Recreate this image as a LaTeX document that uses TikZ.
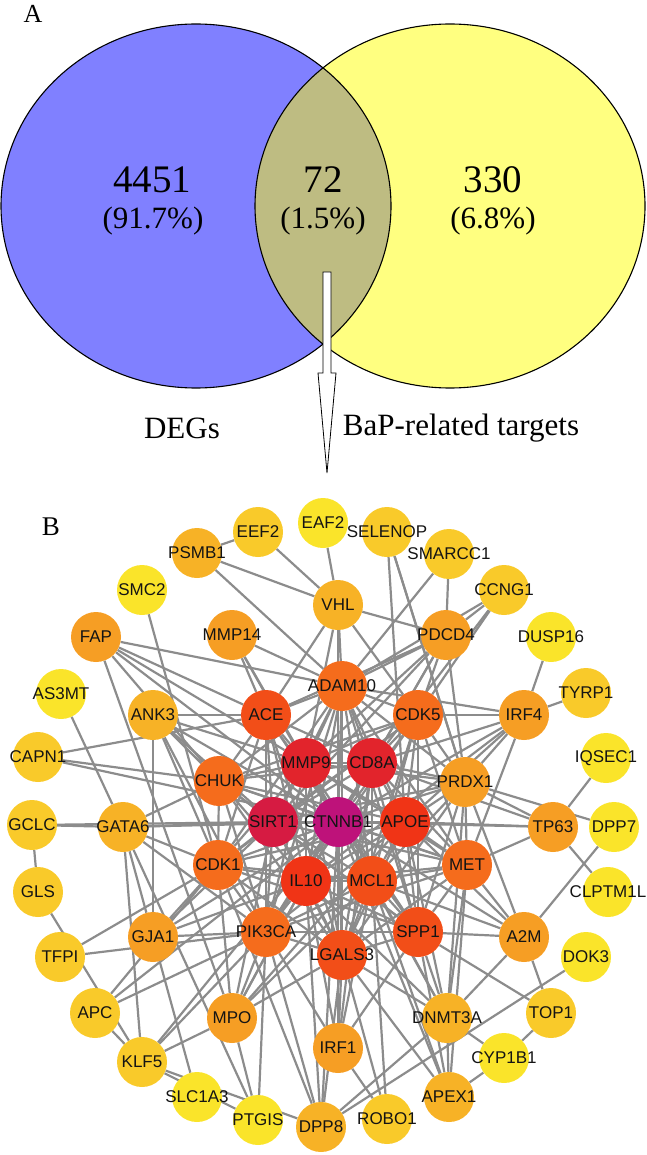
\documentclass[tikz,border=0pt]{standalone}
\usepackage{fontspec}
\setmainfont{Liberation Serif}
\newfontfamily\genefont{Liberation Sans}
\usetikzlibrary{backgrounds}

\definecolor{vennblue}{RGB}{128,128,255}
\definecolor{vennyellow}{RGB}{255,255,128}
\definecolor{vennlens}{RGB}{190,188,130}
\definecolor{linkgray}{RGB}{140,140,140}
\definecolor{g0}{RGB}{190,18,122}
\definecolor{g1}{RGB}{214,27,66}
\definecolor{g2}{RGB}{226,36,44}
\definecolor{g3}{RGB}{240,52,22}
\definecolor{g4}{RGB}{242,78,24}
\definecolor{g5}{RGB}{245,108,28}
\definecolor{g6}{RGB}{246,158,36}
\definecolor{g7}{RGB}{247,178,38}
\definecolor{g8}{RGB}{249,202,42}
\definecolor{g9}{RGB}{250,228,42}

\begin{document}
\begin{tikzpicture}[x=1pt, y=-1pt,
    genetext/.style={inner sep=0pt, text=black!92,
      font=\genefont\fontsize{17}{17}\selectfont},
    gene/.style={circle, minimum size=50pt, inner sep=0pt,
      label={[genetext]center:#1}},
    link/.style={draw=linkgray, line width=2.2pt},
    bignum/.style={inner sep=0pt, anchor=base, font=\fontsize{39}{39}\selectfont},
    pct/.style={inner sep=0pt, anchor=base, font=\fontsize{31}{31}\selectfont},
    setname/.style={font=\fontsize{31}{31}\selectfont}]

\useasboundingbox (0,0) rectangle (646,1155);

% panel A: venn
\fill[vennblue] (196,206) ellipse [x radius=195, y radius=182];
\fill[vennyellow] (450,206) ellipse [x radius=195, y radius=182];
\begin{scope}
  \clip (196,206) ellipse [x radius=195, y radius=182];
  \fill[vennlens] (450,206) ellipse [x radius=195, y radius=182];
\end{scope}
\draw[line width=1.1pt] (196,206) ellipse [x radius=195, y radius=182];
\draw[line width=1.1pt] (450,206) ellipse [x radius=195, y radius=182];

\node[font=\fontsize{26}{26}\selectfont] (labA) at (33,14) {A};
\node[bignum] (nDEG) at (152,193) {4451};
\node[pct] (pDEG) at (153,229) {(91.7\%)};
\node[bignum] (nBoth) at (323,193) {72};
\node[pct] (pBoth) at (323,229) {(1.5\%)};
\node[bignum] (nBaP) at (493,193) {330};
\node[pct] (pBaP) at (493,229) {(6.8\%)};
\node[setname] (setDEG) at (182,428) {DEGs};
\node[setname] (setBaP) at (461,428) {BaP-related targets};

\draw[fill=white, line width=0.8pt] (323,272) -- (331,272) -- (331,373) -- (336,373)
  -- (327,473) -- (318,373) -- (323,373) -- cycle;

% panel B: network
\node[font=\fontsize{27}{27}\selectfont] (labB) at (51,527) {B};

\node[gene=EEF2, fill=g8] (EEF2) at (258,532) {};
\node[gene=PSMB1, fill=g7] (PSMB1) at (197,553) {};
\node[gene=EAF2, fill=g9] (EAF2) at (323,523) {};
\node[gene=SELENOP, fill=g8] (SELENOP) at (387,532) {};
\node[gene=SMARCC1, fill=g8] (SMARCC1) at (449,554) {};
\node[gene=CCNG1, fill=g8] (CCNG1) at (504,590) {};
\node[gene=SMC2, fill=g9] (SMC2) at (142,590) {};
\node[gene=VHL, fill=g7] (VHL) at (338,605) {};
\node[gene=FAP, fill=g6] (FAP) at (96,637) {};
\node[gene=MMP14, fill=g6] (MMP14) at (232,635) {};
\node[gene=PDCD4, fill=g6] (PDCD4) at (446,635) {};
\node[gene=DUSP16, fill=g9] (DUSP16) at (551,637) {};
\node[gene=AS3MT, fill=g9] (AS3MT) at (61,694) {};
\node[gene=ADAM10, fill=g5] (ADAM10) at (342,686) {};
\node[gene=TYRP1, fill=g8] (TYRP1) at (586,693) {};
\node[gene=ANK3, fill=g7] (ANK3) at (153,715) {};
\node[gene=ACE, fill=g4] (ACE) at (266,715) {};
\node[gene=CDK5, fill=g5] (CDK5) at (418,715) {};
\node[gene=IRF4, fill=g6] (IRF4) at (524,715) {};
\node[gene=CAPN1, fill=g8] (CAPN1) at (38,757) {};
\node[gene=MMP9, fill=g2] (MMP9) at (306,763) {};
\node[gene=CD8A, fill=g2] (CD8A) at (372,763) {};
\node[gene=IQSEC1, fill=g9] (IQSEC1) at (606,758) {};
\node[gene=CHUK, fill=g5] (CHUK) at (219,781) {};
\node[gene=PRDX1, fill=g6] (PRDX1) at (465,782) {};
\node[gene=GCLC, fill=g8] (GCLC) at (32,825) {};
\node[gene=GATA6, fill=g7] (GATA6) at (123,827) {};
\node[gene=SIRT1, fill=g1] (SIRT1) at (273,822) {};
\node[gene=CTNNB1, fill=g0] (CTNNB1) at (338,822) {};
\node[gene=APOE, fill=g3] (APOE) at (405,822) {};
\node[gene=TP63, fill=g6] (TP63) at (553,827) {};
\node[gene=DPP7, fill=g9] (DPP7) at (614,827) {};
\node[gene=GLS, fill=g8] (GLS) at (38,892) {};
\node[gene=CDK1, fill=g5] (CDK1) at (218,865) {};
\node[gene=MET, fill=g5] (MET) at (467,865) {};
\node[gene=CLPTM1L, fill=g9] (CLPTM1L) at (608,892) {};
\node[gene=IL10, fill=g3] (IL10) at (306,881) {};
\node[gene=MCL1, fill=g4] (MCL1) at (372,881) {};
\node[gene=GJA1, fill=g6] (GJA1) at (153,937) {};
\node[gene=PIK3CA, fill=g5] (PIK3CA) at (266,932) {};
\node[gene=SPP1, fill=g4] (SPP1) at (418,932) {};
\node[gene=A2M, fill=g6] (A2M) at (524,937) {};
\node[gene=TFPI, fill=g8] (TFPI) at (60,957) {};
\node[gene=LGALS3, fill=g4] (LGALS3) at (342,955) {};
\node[gene=DOK3, fill=g9] (DOK3) at (586,957) {};
\node[gene=APC, fill=g8] (APC) at (95,1013) {};
\node[gene=MPO, fill=g6] (MPO) at (232,1018) {};
\node[gene=DNMT3A, fill=g7] (DNMT3A) at (447,1018) {};
\node[gene=TOP1, fill=g8] (TOP1) at (551,1013) {};
\node[gene=IRF1, fill=g6] (IRF1) at (338,1048) {};
\node[gene=KLF5, fill=g8] (KLF5) at (142,1062) {};
\node[gene=CYP1B1, fill=g9] (CYP1B1) at (504,1058) {};
\node[gene=SLC1A3, fill=g9] (SLC1A3) at (197,1097) {};
\node[gene=APEX1, fill=g7] (APEX1) at (449,1097) {};
\node[gene=PTGIS, fill=g9] (PTGIS) at (258,1120) {};
\node[gene=DPP8, fill=g7] (DPP8) at (321,1127) {};
\node[gene=ROBO1, fill=g8] (ROBO1) at (387,1119) {};

\begin{scope}[on background layer]
\path[link] (CTNNB1) edge (SIRT1) edge (MMP9) edge (CD8A) edge (APOE) edge (IL10)
  edge (MCL1) edge (ACE) edge (ADAM10) edge (CDK5) edge (CHUK) edge (PRDX1)
  edge (CDK1) edge (MET) edge (PIK3CA) edge (SPP1) edge (LGALS3) edge (MMP14)
  edge (PDCD4) edge (VHL) edge (IRF4) edge (TP63) edge (A2M) edge (DNMT3A)
  edge (IRF1) edge (MPO) edge (GJA1) edge (GATA6) edge (ANK3) edge (FAP)
  edge (CAPN1) edge (APC) edge (KLF5) edge (DPP8) edge (APEX1);
\path[link] (SIRT1) edge (MMP9) edge (CD8A) edge (APOE) edge (IL10) edge (MCL1)
  edge (ACE) edge (CHUK) edge (CDK1) edge (PIK3CA) edge (LGALS3) edge (SPP1)
  edge (MET) edge (GATA6) edge (GCLC) edge (PDCD4) edge (ADAM10) edge (CDK5)
  edge (PRDX1) edge (GJA1) edge (ANK3) edge (MPO);
\path[link] (MMP9) edge (CD8A) edge (APOE) edge (IL10) edge (MCL1) edge (ACE)
  edge (CHUK) edge (ADAM10) edge (CDK5) edge (PIK3CA) edge (LGALS3) edge (SPP1)
  edge (MET) edge (MMP14) edge (FAP) edge (ANK3) edge (PDCD4) edge (VHL)
  edge (CDK1) edge (PRDX1);
\path[link] (CD8A) edge (APOE) edge (IL10) edge (MCL1) edge (ADAM10) edge (CDK5)
  edge (PRDX1) edge (MET) edge (SPP1) edge (LGALS3) edge (PIK3CA) edge (ACE)
  edge (CHUK) edge (IRF4) edge (CCNG1) edge (PDCD4) edge (TP63) edge (IRF1);
\path[link] (APOE) edge (IL10) edge (MCL1) edge (MET) edge (SPP1) edge (PRDX1)
  edge (CDK5) edge (TP63) edge (A2M) edge (SELENOP) edge (LGALS3) edge (PIK3CA)
  edge (ADAM10) edge (CHUK) edge (CDK1) edge (IRF4) edge (DNMT3A) edge (MPO);
\path[link] (IL10) edge (MCL1) edge (CDK1) edge (PIK3CA) edge (LGALS3) edge (SPP1)
  edge (CHUK) edge (IRF1) edge (MPO) edge (DNMT3A) edge (MET) edge (ACE)
  edge (ADAM10) edge (IRF4) edge (GJA1) edge (DPP8);
\path[link] (MCL1) edge (PIK3CA) edge (LGALS3) edge (SPP1) edge (MET) edge (CDK1)
  edge (DNMT3A) edge (IRF1) edge (A2M) edge (PRDX1) edge (CDK5) edge (ADAM10)
  edge (MPO) edge (APEX1) edge (ROBO1);
\path[link] (ACE) edge (CHUK) edge (ADAM10) edge (MMP14) edge (FAP) edge (CAPN1)
  edge (VHL) edge (CDK1) edge (PIK3CA) edge (ANK3) edge (PDCD4) edge (LGALS3)
  edge (SPP1);
\path[link] (ADAM10) edge (CDK5) edge (VHL) edge (PDCD4) edge (SMARCC1)
  edge (CCNG1) edge (MMP14) edge (PSMB1) edge (CHUK) edge (PIK3CA) edge (LGALS3)
  edge (MET) edge (PRDX1) edge (IRF4) edge (SPP1) edge (CDK1) edge (FAP);
\path[link] (CDK5) edge (PDCD4) edge (VHL) edge (PRDX1) edge (IRF4) edge (MET)
  edge (CHUK) edge (CDK1) edge (SPP1) edge (LGALS3) edge (PIK3CA) edge (CCNG1);
\path[link] (CHUK) edge (CDK1) edge (PIK3CA) edge (FAP) edge (CAPN1) edge (ANK3)
  edge (GATA6) edge (MET) edge (LGALS3) edge (SPP1);
\path[link] (PRDX1) edge (MET) edge (IRF4) edge (PDCD4) edge (DPP7) edge (TP63)
  edge (SPP1) edge (A2M) edge (LGALS3) edge (SELENOP) edge (DNMT3A);
\path[link] (CDK1) edge (PIK3CA) edge (GJA1) edge (GATA6) edge (TFPI) edge (APC)
  edge (LGALS3) edge (MPO) edge (SMC2) edge (ANK3) edge (DPP8) edge (SPP1);
\path[link] (MET) edge (SPP1) edge (A2M) edge (TP63) edge (DNMT3A) edge (IRF4)
  edge (LGALS3) edge (PIK3CA) edge (APEX1);
\path[link] (PIK3CA) edge (LGALS3) edge (SPP1) edge (GJA1) edge (GATA6) edge (APC)
  edge (KLF5) edge (MPO) edge (PTGIS) edge (DPP8) edge (IRF1) edge (ANK3)
  edge (TFPI);
\path[link] (SPP1) edge (LGALS3) edge (DNMT3A) edge (A2M) edge (TOP1) edge (IRF1)
  edge (APEX1);
\path[link] (LGALS3) edge (IRF1) edge (DNMT3A) edge (MPO) edge (DPP8) edge (ROBO1)
  edge (APEX1);
% outer ring
\path[link] (PSMB1) edge (EEF2) edge (VHL);
\path[link] (VHL) edge (EEF2) edge (EAF2) edge (PDCD4);
\path[link] (SELENOP) edge (PRDX1);
\path[link] (SMARCC1) edge (PDCD4);
\path[link] (CCNG1) edge (PDCD4);
\path[link] (IRF4) edge (DUSP16) edge (TYRP1);
\path[link] (TP63) edge (IQSEC1) edge (CLPTM1L);
\path[link] (FAP) edge (MPO);
\path[link] (GJA1) edge (ANK3) edge (GATA6) edge (SLC1A3);
\path[link] (GATA6) edge (AS3MT) edge (GCLC) edge (KLF5) edge (PTGIS);
\path[link] (GCLC) edge (GLS);
\path[link] (KLF5) edge (GLS) edge (APC) edge (MPO) edge (DPP8) edge (PTGIS);
\path[link] (PTGIS) edge (MPO);
\path[link] (DNMT3A) edge (DPP8) edge (APEX1) edge (CYP1B1) edge (A2M);
\path[link] (DPP8) edge (DOK3);
\path[link] (IRF1) edge (ROBO1);
\path[link] (CYP1B1) edge (APEX1) edge (TOP1);
\path[link] (A2M) edge (TOP1) edge (DPP7);
\end{scope}
\end{tikzpicture}
\end{document}
